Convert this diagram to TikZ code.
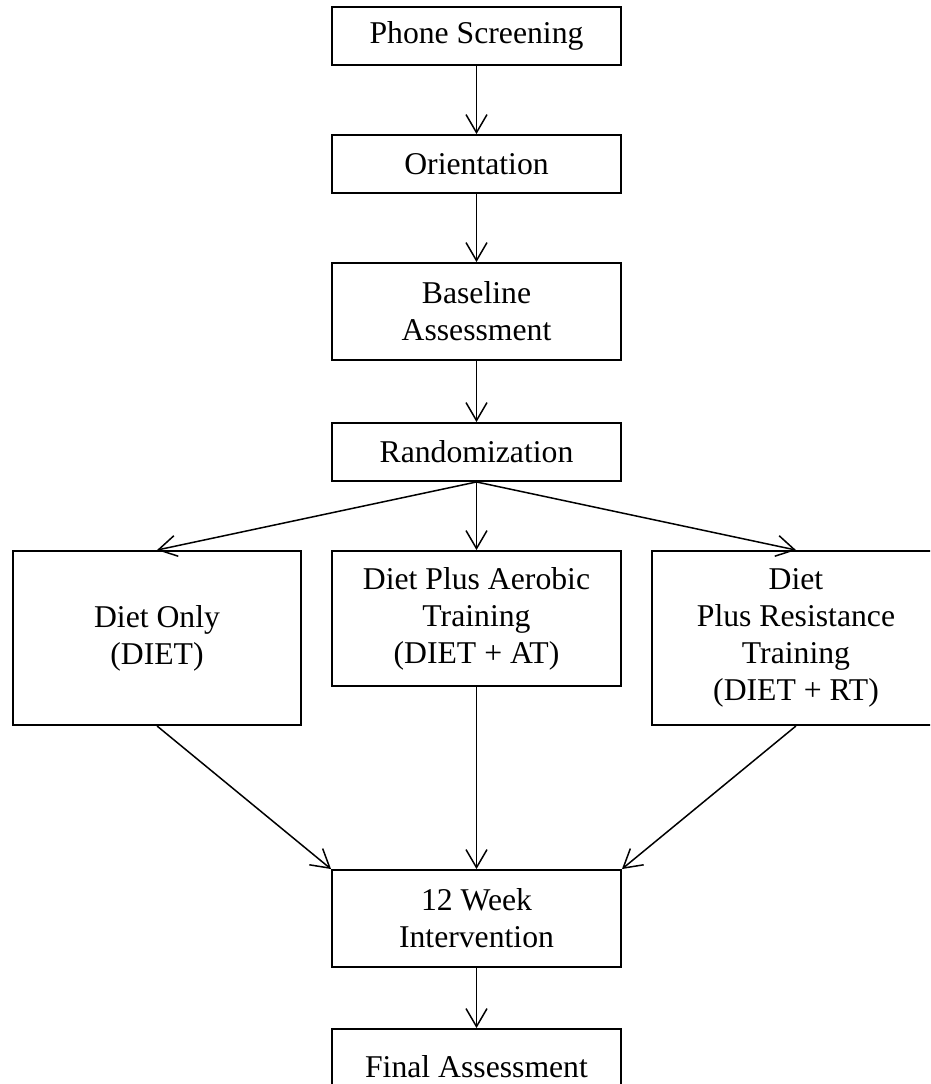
\documentclass[tikz,border=0pt]{standalone}
\usepackage{fontspec}
\setmainfont{Liberation Serif}
\usetikzlibrary{arrows.meta}

\begin{document}
\begin{tikzpicture}[x=1pt,y=1pt,
            box/.style={draw,line width=1.9pt,inner sep=0pt,align=center,
                minimum width=289pt,font=\fontsize{31.7}{37}\selectfont},
            arr/.style={line width=1.5pt,-{Straight Barb[length=18pt,width=21pt,line width=1.5pt]}}]
            \useasboundingbox (0,0) rectangle (930,-1084);
            \clip (0,0) rectangle (930,-1084);
            \node [box,minimum height=58pt] (phone) at (476.5,-36) {Phone Screening};
            \node [box,minimum height=58pt] (orient) at (476.5,-164) {Orientation};
            \node [box,minimum height=97pt] (base) at (476.5,-311.5) {Baseline\\Assessment};
            \node [box,minimum height=58pt] (rand) at (476.5,-452) {Randomization};
            \node [box,minimum width=288pt,minimum height=174pt] (diet) at (157,-638) {Diet Only\\(DIET)};
            \node [box,minimum height=135pt] (dietat) at (476.5,-618.5) {Diet Plus Aerobic\\Training\\(DIET + AT)};
            \node [box,minimum width=288pt,minimum height=174pt] (dietrt) at (796,-638) {Diet\\Plus Resistance\\Training\\(DIET + RT)};
            \node [box,minimum height=97pt] (interv) at (476.5,-918.5) {12 Week\\Intervention};
            \node [box,minimum height=76pt] (final) at (476.5,-1067) {Final Assessment};
            % fleches
            \draw [arr] (phone) -- (orient);
            \draw [arr] (orient) -- (base);
            \draw [arr] (base) -- (rand);
            \draw [arr] (rand.south) -- (diet.north);
            \draw [arr] (rand.south) -- (dietat.north);
            \draw [arr] (rand.south) -- (dietrt.north);
            \draw [arr] (diet.south) -- (interv.north west);
            \draw [arr] (dietat) -- (interv);
            \draw [arr] (dietrt.south) -- (interv.north east);
            \draw [arr] (interv) -- (final);
        \end{tikzpicture}
\end{document}
